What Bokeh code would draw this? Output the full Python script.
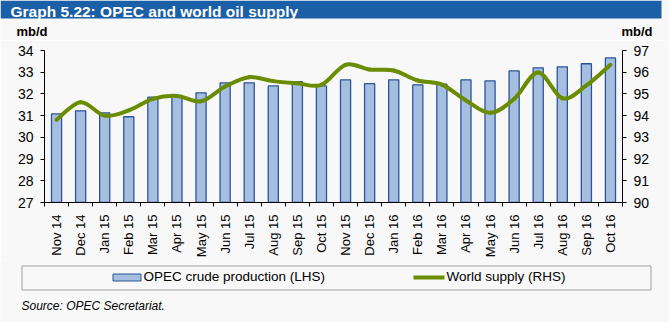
import numpy as np
from bokeh.plotting import figure
from bokeh.layouts import column
from bokeh.models import Range1d, LinearAxis, FixedTicker
from bokeh.embed import file_html
from bokeh.resources import INLINE
from bokeh.core.properties import value

months = ["Nov 14", "Dec 14", "Jan 15", "Feb 15", "Mar 15", "Apr 15", "May 15", "Jun 15",
          "Jul 15", "Aug 15", "Sep 15", "Oct 15", "Nov 15", "Dec 15", "Jan 16", "Feb 16",
          "Mar 16", "Apr 16", "May 16", "Jun 16", "Jul 16", "Aug 16", "Sep 16", "Oct 16"]
opec = [31.08, 31.22, 31.13, 30.95, 31.85, 31.90, 32.05, 32.51, 32.51, 32.37, 32.56, 32.37,
        32.65, 32.47, 32.65, 32.42, 32.45, 32.65, 32.60, 33.06, 33.20, 33.25, 33.39, 33.66]
world = [93.81, 94.62, 94.00, 94.24, 94.77, 94.91, 94.66, 95.34, 95.77, 95.59, 95.49, 95.42,
         96.34, 96.12, 96.08, 95.62, 95.43, 94.70, 94.13, 94.77, 95.99, 94.80, 95.39, 96.34]
lhs_ticks = [27, 28, 29, 30, 31, 32, 33, 34]
rhs_ticks = [90, 91, 92, 93, 94, 95, 96, 97]
title = "Graph 5.22: OPEC and world oil supply"
unit = "mb/d"
series_names = ["OPEC crude production (LHS)", "World supply (RHS)"]
source = "Source: OPEC Secretariat."

W = 669
TOP_H, MAIN_H, BOT_H = 40, 220, 62
FL, FR = 44, 622
FONT = "Liberation Sans"
BG = "#f8f8f8"
BAR_FILL = "#a6bfe0"
BAR_LINE = "#2b5597"
GREEN = "#6a8c00"
BLUE = "#1b5fa6"


def no_align(f):
    try:
        f.frame_align = False
    except Exception:
        pass


def panel(h):
    f = figure(width=W, height=h, output_backend="svg", toolbar_location=None, title=None,
               x_range=Range1d(0, W), y_range=Range1d(h, 0),
               x_axis_location=None, y_axis_location=None,
               min_border=0, min_border_left=0, min_border_right=0,
               min_border_top=0, min_border_bottom=0)
    f.background_fill_color = BG
    f.border_fill_color = BG
    f.outline_line_color = None
    f.grid.visible = False
    no_align(f)
    return f


# ---------- header ----------
top = panel(TOP_H)
top.quad(left=[0], right=[661], top=[0], bottom=[18], fill_color=BLUE, line_color=None)
top.text(x=[10], y=[10.5], text=[title], text_font=value(FONT), text_font_size=value("15.5px"),
         text_font_style="bold", text_color="white", text_baseline="middle")
top.text(x=[16, 621], y=[30.5, 30.5], text=[unit, unit], text_font=value(FONT),
         text_font_size=value("13px"), text_font_style="bold", text_color="black",
         text_baseline="middle")

# ---------- main chart ----------
n = len(months)
xs = [i + 0.5 for i in range(n)]

p = figure(width=W, height=MAIN_H, output_backend="svg", toolbar_location=None, title=None,
           x_range=Range1d(0, n), y_range=Range1d(lhs_ticks[0], lhs_ticks[-1]),
           min_border_left=FL, min_border_right=W - FR, min_border_top=10,
           min_border_bottom=58)
p.background_fill_color = BG
p.border_fill_color = BG
p.outline_line_color = None
p.xgrid.visible = False
p.ygrid.visible = False
p.extra_y_ranges = {"rhs": Range1d(rhs_ticks[0], rhs_ticks[-1])}
no_align(p)

xa = p.xaxis[0]
xa.ticker = FixedTicker(ticks=xs, minor_ticks=list(range(n + 1)))
xa.major_label_overrides = {x: m for x, m in zip(xs, months)}
xa.major_label_orientation = np.pi / 2
xa.major_tick_out = 0
xa.major_tick_in = 0
xa.minor_tick_out = 4
xa.minor_tick_in = 0
xa.minor_tick_line_color = "black"
xa.axis_line_color = "black"
xa.major_label_standoff = 8
xa.major_label_text_font = FONT
xa.major_label_text_font_size = "13px"
xa.major_label_text_color = "black"

ya = p.yaxis[0]
ya.ticker = FixedTicker(ticks=lhs_ticks)
ya.major_tick_out = 4
ya.major_tick_in = 0
ya.minor_tick_line_color = None
ya.major_tick_line_color = "black"
ya.axis_line_color = "black"
ya.major_label_standoff = 7
ya.major_label_text_font = FONT
ya.major_label_text_font_size = "14px"
ya.major_label_text_color = "black"

ra = LinearAxis(y_range_name="rhs", ticker=FixedTicker(ticks=rhs_ticks))
ra.major_tick_out = 4
ra.major_tick_in = 0
ra.minor_tick_line_color = None
ra.major_tick_line_color = "black"
ra.axis_line_color = "black"
ra.major_label_standoff = 7
ra.major_label_text_font = FONT
ra.major_label_text_font_size = "14px"
ra.major_label_text_color = "black"
p.add_layout(ra, "right")

p.vbar(x=xs, top=opec, bottom=lhs_ticks[0], width=0.42, fill_color=BAR_FILL,
       line_color=BAR_LINE, line_width=1.3)

# smoothed line: Catmull-Rom converted to cubic Bezier segments through the data points
px = np.array(xs, dtype=float)
py = np.array(world, dtype=float)
ext_x = np.concatenate([[px[0]], px, [px[-1]]])
ext_y = np.concatenate([[py[0]], py, [py[-1]]])
x0 = px[:-1]; y0 = py[:-1]; x1 = px[1:]; y1 = py[1:]
cx0 = x0 + (ext_x[2:-1] - ext_x[:-3]) / 6.0
cy0 = y0 + (ext_y[2:-1] - ext_y[:-3]) / 6.0
cx1 = x1 - (ext_x[3:] - ext_x[1:-2]) / 6.0
cy1 = y1 - (ext_y[3:] - ext_y[1:-2]) / 6.0
p.bezier(x0=x0, y0=y0, x1=x1, y1=y1, cx0=cx0, cy0=cy0, cx1=cx1, cy1=cy1,
         y_range_name="rhs", line_color=GREEN, line_width=4, line_cap="round")

# ---------- legend + source ----------
bot = panel(BOT_H)
bot.quad(left=[21.5], right=[650.5], top=[5.5], bottom=[29.5], fill_color=None,
         line_color="#a0a0a0", line_width=1)
bot.quad(left=[112.5], right=[140.5], top=[13.5], bottom=[20.5], fill_color=BAR_FILL,
         line_color=BAR_LINE, line_width=1)
bot.segment(x0=[413], y0=[17], x1=[444], y1=[17], line_color=GREEN, line_width=4)
bot.text(x=[143, 446], y=[16, 16], text=series_names, text_font=value(FONT),
         text_font_size=value("13.5px"), text_color="black", text_baseline="middle")
bot.text(x=[21], y=[45], text=[source], text_font=value(FONT), text_font_size=value("12px"),
         text_font_style="italic", text_color="black", text_baseline="middle")

layout = column(top, p, bot, spacing=0)
open("out.html", "w").write(file_html(layout, INLINE))
